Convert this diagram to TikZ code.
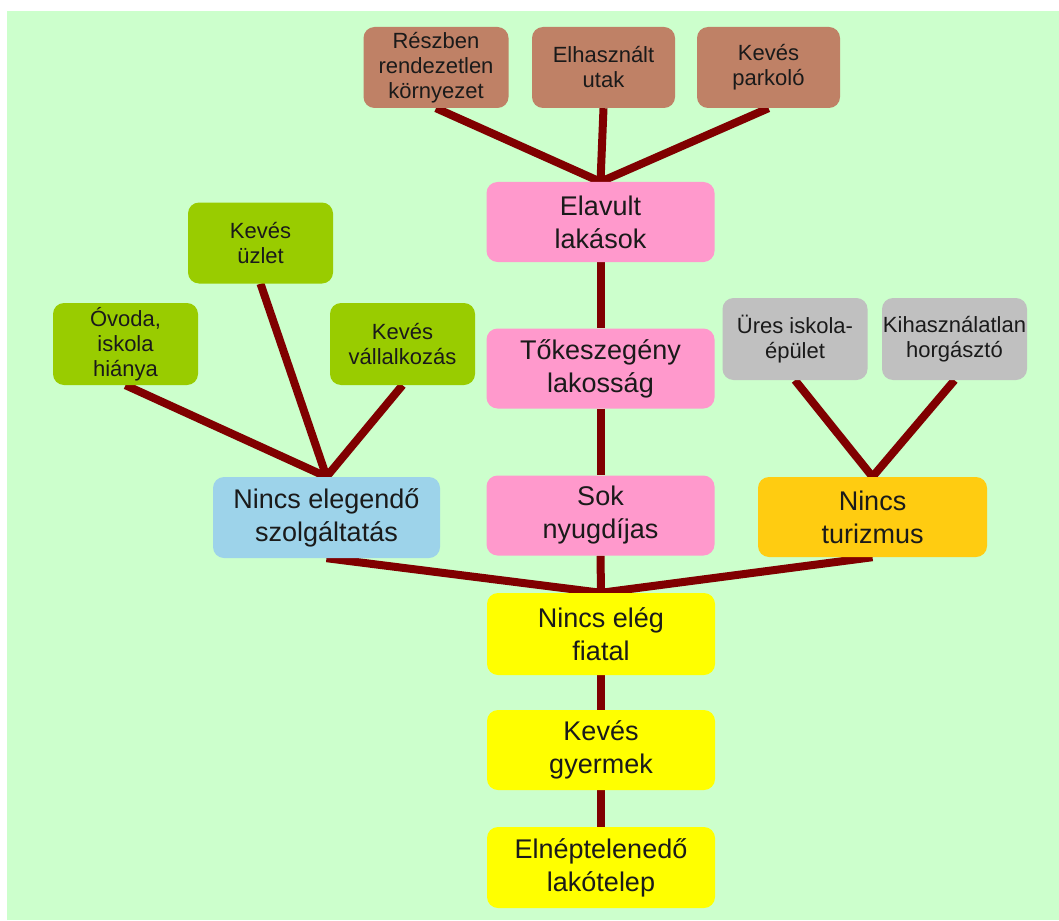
\documentclass[tikz,border=0pt]{standalone}
\usepackage{fontspec}
\setmainfont{Liberation Sans}
\usetikzlibrary{backgrounds}
\definecolor{bg}{HTML}{CCFFCC}
\definecolor{brownbox}{HTML}{BF8166}
\definecolor{pinkbox}{HTML}{FF99CC}
\definecolor{greenbox}{HTML}{99CC00}
\definecolor{bluebox}{HTML}{9DD3EA}
\definecolor{orangebox}{HTML}{FFCC11}
\definecolor{yellowbox}{HTML}{FFFF00}
\definecolor{graybox}{HTML}{C0C0C0}
\definecolor{linkred}{HTML}{800000}
\definecolor{txt}{HTML}{1A1A1A}
\begin{document}
\begin{tikzpicture}[x=1pt,y=-1pt,
  box/.style={rounded corners=11pt, inner sep=0pt, align=center, text=txt},
  small/.style={box, minimum width=145pt, minimum height=81pt, font=\fontsize{22}{25}\selectfont},
  big/.style={box, minimum width=228pt, minimum height=80pt, font=\fontsize{27}{33}\selectfont},
  link/.style={line width=8pt, draw=linkred}]
\useasboundingbox (0,0) rectangle (1059,920);
% top brown boxes
\node[small, fill=brownbox] (b1) at (436,67.5) {Részben\\rendezetlen\\környezet};
\node[small, fill=brownbox, minimum width=143pt] (b2) at (603.5,67.5) {Elhasznált\\utak};
\node[small, fill=brownbox, minimum width=143pt] (b3) at (768.5,67.5) {Kevés\\parkoló};
% pink column
\node[big, fill=pinkbox] (p1) at (600.5,222) {Elavult\\lakások};
\node[big, fill=pinkbox] (p2) at (600.5,368.5) {Tőkeszegény\\lakosság};
\node[big, fill=pinkbox] (p3) at (600.5,515.5) {Sok\\nyugdíjas};
% green boxes
\node[small, fill=greenbox] (g2) at (260.5,243) {Kevés\\üzlet};
\node[small, fill=greenbox, minimum height=82pt] (g1) at (125.5,344) {Óvoda,\\iskola\\hiánya};
\node[small, fill=greenbox, minimum height=82pt] (g3) at (402.5,344) {Kevés\\vállalkozás};
\node[big, fill=bluebox, minimum width=227pt, minimum height=81pt] (blue) at (326.5,517.5) {Nincs elegendő\\szolgáltatás};
% gray boxes
\node[small, fill=graybox, minimum height=82pt] (s1) at (795,339) {Üres iskola-\\épület};
\node[small, fill=graybox, minimum height=82pt] (s2) at (954.5,339) {Kihasználatlan\\horgásztó};
\node[big, fill=orangebox, minimum width=229pt] (orange) at (872.5,517) {Nincs\\turizmus};
% yellow column
\node[big, fill=yellowbox, minimum height=82pt] (y1) at (601,634) {Nincs elég\\fiatal};
\node[big, fill=yellowbox] (y2) at (601,750) {Kevés\\gyermek};
\node[big, fill=yellowbox, minimum height=81pt] (y3) at (601,867.5) {Elnéptelenedő\\lakótelep};
\begin{scope}[on background layer]
  \fill[white] (0,0) rectangle (1059,920);
  \fill[bg] (7,11) rectangle (1059,920);
  \draw[link] (b1.south) -- (p1.north);
  \draw[link] (b2.south) -- (p1.north);
  \draw[link] (b3.south) -- (p1.north);
  \draw[link] (p1.south) -- (p2.north);
  \draw[link] (p2.south) -- (p3.north);
  \draw[link] (p3.south) -- (y1.north);
  \draw[link] (g1.south) -- (blue.north);
  \draw[link] (g2.south) -- (blue.north);
  \draw[link] (g3.south) -- (blue.north);
  \draw[link] (s1.south) -- (orange.north);
  \draw[link] (s2.south) -- (orange.north);
  \draw[link] (blue.south) -- (y1.north);
  \draw[link] (orange.south) -- (y1.north);
  \draw[link] (y1.south) -- (y2.north);
  \draw[link] (y2.south) -- (y3.north);
\end{scope}
\end{tikzpicture}
\end{document}
